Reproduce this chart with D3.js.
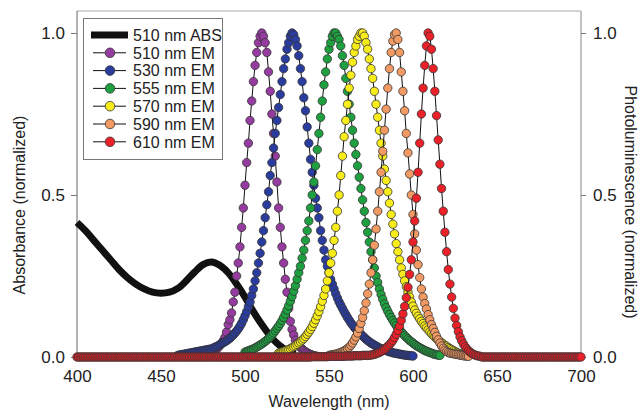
<!DOCTYPE html>
<html><head><meta charset="utf-8">
<script src="https://cdn.jsdelivr.net/npm/d3@7"></script>
<style>
body{margin:0;background:#fff;}
text{font-family:"Liberation Sans Narrow","Arial Narrow","Liberation Sans",Arial,sans-serif;fill:#222;}
</style></head>
<body><svg id="c" width="641" height="410"></svg>
<script>
// ---- data ----
const xTicks = [400, 450, 500, 550, 600, 650, 700];
const yTicks = [0, 0.5, 1.0];
const legendLabels = ["510 nm ABS","510 nm EM","530 nm EM","555 nm EM","570 nm EM","590 nm EM","610 nm EM"];
const emColors = ["#963CA0","#2A3C9E","#1FA040","#F8EC1A","#F29A64","#EA2128"];

const absNm  = [400,405,410,415,420,425,430,435,440,445,450,455,460,465,470,475,480,485,490,495,500,505,510,515,520,525,530];
const absVal = [0.415,0.39,0.36,0.33,0.30,0.27,0.245,0.225,0.21,0.20,0.197,0.20,0.212,0.235,0.262,0.285,0.293,0.283,0.26,0.225,0.185,0.14,0.10,0.065,0.038,0.02,0.01];

// emission series: first wavelength (nm) of each, 1 nm steps
const emStart = [475, 460, 500, 520, 550, 400];
const em510 = [0.004,0.005,0.006,0.008,0.01,0.013,0.016,0.02,0.024,0.029,0.035,0.042,0.05,0.06,0.077,0.1,0.115,0.136,0.17,0.2,
  0.25,0.29,0.34,0.4,0.46,0.53,0.6,0.66,0.73,0.79,0.85,0.9,0.94,0.97,0.99,1.0,0.99,0.97,0.94,0.88,
  0.82,0.75,0.69,0.62,0.54,0.46,0.4,0.34,0.29,0.24,0.2,0.15,0.11,0.085,0.068,0.052,0.042,0.035,0.03,0.025,
  0.02,0.016,0.013,0.01,0.008,0.006,0.004,0.003,0.002];
const em530 = [0.005,0.006,0.007,0.008,0.009,0.01,0.011,0.012,0.013,0.014,0.015,0.016,0.017,0.018,0.019,0.02,0.021,0.022,0.023,0.024,
  0.025,0.027,0.03,0.032,0.035,0.038,0.041,0.044,0.047,0.05,0.054,0.058,0.063,0.068,0.074,0.08,0.087,0.095,0.104,0.115,
  0.127,0.14,0.155,0.17,0.19,0.21,0.235,0.26,0.29,0.32,0.355,0.39,0.43,0.47,0.51,0.56,0.6,0.645,0.69,0.73,
  0.77,0.81,0.85,0.89,0.92,0.95,0.97,0.99,1.0,0.995,0.98,0.96,0.93,0.89,0.85,0.8,0.76,0.71,0.66,0.61,
  0.57,0.53,0.49,0.46,0.43,0.39,0.36,0.33,0.3,0.28,0.26,0.24,0.225,0.21,0.195,0.182,0.17,0.16,0.15,0.14,
  0.131,0.122,0.114,0.106,0.099,0.092,0.086,0.08,0.075,0.07,0.065,0.06,0.055,0.051,0.047,0.043,0.04,0.037,0.034,0.031,
  0.028,0.026,0.024,0.022,0.02,0.018,0.016,0.015,0.013,0.012,0.011,0.01,0.009,0.008,0.007,0.006,0.005,0.005,0.004,0.004,0.003];
const em555 = [0.015,0.017,0.019,0.021,0.023,0.025,0.028,0.031,0.034,0.037,0.04,0.044,0.048,0.052,0.057,0.062,0.068,0.074,0.081,0.088,
  0.095,0.103,0.112,0.122,0.133,0.145,0.158,0.172,0.187,0.203,0.22,0.24,0.26,0.28,0.305,0.33,0.36,0.39,0.42,0.46,
  0.5,0.54,0.59,0.64,0.69,0.74,0.79,0.84,0.88,0.92,0.95,0.97,0.99,1.0,1.0,0.99,0.98,0.96,0.93,0.9,
  0.86,0.82,0.78,0.74,0.7,0.66,0.625,0.59,0.555,0.52,0.485,0.45,0.415,0.385,0.355,0.325,0.3,0.275,0.25,0.23,
  0.21,0.193,0.178,0.164,0.152,0.141,0.131,0.122,0.113,0.105,0.097,0.09,0.084,0.078,0.072,0.066,0.061,0.056,0.051,0.047,
  0.043,0.039,0.035,0.032,0.029,0.026,0.023,0.02,0.018,0.016,0.014,0.012,0.01,0.008,0.007,0.006,0.005];
const em570 = [0.012,0.013,0.015,0.017,0.019,0.021,0.023,0.026,0.029,0.032,0.035,0.039,0.043,0.047,0.052,0.057,0.063,0.07,0.077,0.085,
  0.094,0.104,0.115,0.127,0.14,0.155,0.172,0.19,0.21,0.235,0.26,0.29,0.32,0.36,0.4,0.45,0.5,0.56,0.62,0.68,
  0.73,0.78,0.83,0.87,0.91,0.94,0.96,0.98,0.99,1.0,1.0,0.99,0.97,0.95,0.92,0.89,0.86,0.82,0.78,0.74,
  0.7,0.66,0.62,0.58,0.545,0.51,0.475,0.44,0.41,0.38,0.35,0.325,0.3,0.275,0.255,0.235,0.217,0.2,0.185,0.17,
  0.157,0.145,0.135,0.126,0.118,0.11,0.103,0.096,0.09,0.084,0.078,0.072,0.067,0.062,0.057,0.052,0.048,0.044,0.04,0.036,
  0.033,0.029,0.026,0.023,0.02,0.017,0.014,0.012,0.01,0.008,0.006,0.005];
const em590 = [0.005,0.006,0.007,0.008,0.009,0.01,0.012,0.014,0.016,0.019,0.022,0.026,0.03,0.036,0.043,0.052,0.062,0.074,0.088,0.104,
  0.122,0.143,0.167,0.195,0.225,0.26,0.3,0.345,0.395,0.45,0.51,0.57,0.635,0.7,0.765,0.83,0.89,0.94,0.975,0.995,
  1.0,0.98,0.94,0.88,0.82,0.76,0.69,0.63,0.565,0.5,0.44,0.38,0.33,0.285,0.245,0.21,0.185,0.165,0.148,0.131,
  0.115,0.1,0.088,0.076,0.064,0.053,0.043,0.034,0.027,0.021,0.017,0.014,0.012,0.011,0.01,0.009,0.008,0.007,0.006,0.005,
  0.004,0.003,0.003,0.002];
const em610 = [0,0,0,0,0,0,0,0,0,0,0,0,0,0,0,0,0,0,0,0,0,0,0,0,0,
  0,0,0,0,0,0,0,0,0,0,0,0,0,0,0,0,0,0,0,0,0,0,0,0,0,
  0,0,0,0,0,0,0,0,0,0,0,0,0,0,0,0,0,0,0,0,0,0,0,0,0,
  0,0,0,0,0,0,0,0,0,0,0,0,0,0,0,0,0,0,0,0,0,0,0,0,0,
  0,0,0,0,0,0,0,0,0,0,0,0,0,0,0,0,0,0,0,0,0,0,0,0,0,
  0,0,0,0,0,0,0,0,0,0,0,0,0,0,0,
  0.001,0.001,0.001,0.001,0.001,0.001,0.001,0.001,0.001,0.001,0.002,0.002,0.002,0.002,0.002,0.002,0.002,0.002,0.002,0.002,
  0.003,0.003,0.003,0.003,0.003,0.004,0.004,0.004,0.004,0.004,0.005,0.005,0.005,0.005,0.005,
  0.006,0.007,0.008,0.01,0.012,0.014,0.017,0.02,0.024,0.028,0.033,0.038,0.044,0.051,0.06,0.07,0.082,0.096,0.113,0.133,
  0.156,0.183,0.215,0.255,0.3,0.355,0.42,0.49,0.57,0.66,0.75,0.83,0.9,0.96,1.0,0.99,0.95,0.89,0.82,0.745,
  0.67,0.595,0.52,0.45,0.385,0.325,0.27,0.225,0.185,0.15,0.12,0.097,0.078,0.062,0.05,0.04,0.032,0.025,0.019,0.015,
  0.011,0.008,0.006,0.004,0.003,0.002,
  0,0,0,0,0,0,0,0,0,0,0,0,0,0,0,0,0,0,0,0,0,0,0,0,0,
  0,0,0,0,0,0,0,0,0,0,0,0,0,0,0,0,0,0,0,0,0,0,0,0,0,
  0,0,0,0,0,0,0,0,0,0];
const emValues = [em510, em530, em555, em570, em590, em610];

// ---- drawing ----
const svg = d3.select("#c");
const x = d3.scaleLinear().domain([400, 700]).range([77, 581]);
const y = d3.scaleLinear().domain([0, 1]).range([357, 33]);
const frameTop = 11;
const FONT = "'Liberation Sans Narrow','Arial Narrow','Liberation Sans',Arial,sans-serif";

// frame
svg.append("line").attr("x1", x(400)).attr("x2", x(700)).attr("y1", frameTop).attr("y2", frameTop)
  .attr("stroke", "#aaa").attr("stroke-width", 1);
svg.append("line").attr("x1", x(400)).attr("x2", x(400)).attr("y1", frameTop).attr("y2", y(0))
  .attr("stroke", "#666").attr("stroke-width", 1);
svg.append("line").attr("x1", x(700)).attr("x2", x(700)).attr("y1", frameTop).attr("y2", y(0))
  .attr("stroke", "#888").attr("stroke-width", 1);

// axes
const fmt = d3.format(".1f");
const gl = svg.append("g").attr("transform", `translate(${x(400)},0)`)
  .call(d3.axisLeft(y).tickValues(yTicks).tickFormat(fmt).tickSize(6).tickPadding(6));
const gr = svg.append("g").attr("transform", `translate(${x(700)},0)`)
  .call(d3.axisRight(y).tickValues(yTicks).tickFormat(fmt).tickSize(5).tickPadding(7));
const gb = svg.append("g").attr("transform", `translate(0,${y(0) + 8})`)
  .call(d3.axisBottom(x).tickValues(xTicks).tickFormat(d3.format("d")).tickSize(0).tickPadding(5));
[gl, gr, gb].forEach(g => {
  g.select(".domain").remove();
  g.selectAll(".tick line").attr("stroke", "#777");
  g.selectAll("text").attr("font-size", 17).style("fill", "#222").attr("font-family", FONT);
});

// axis titles
svg.append("text").attr("x", 329).attr("y", 407).attr("text-anchor", "middle")
  .attr("font-size", 16).text("Wavelength (nm)");
svg.append("text").attr("transform", "translate(25,205) rotate(-90)").attr("text-anchor", "middle")
  .attr("font-size", 16).text("Absorbance (normalized)");
svg.append("text").attr("transform", "translate(625,202) rotate(90)").attr("text-anchor", "middle")
  .attr("font-size", 16).text("Photoluminescence (normalized)");

// absorbance
const absData = absNm.map((d, i) => [d, absVal[i]]);
svg.append("path").datum(absData)
  .attr("d", d3.line().x(d => x(d[0])).y(d => y(d[1])).curve(d3.curveCatmullRom))
  .attr("fill", "none").attr("stroke", "#111").attr("stroke-width", 7);

// emission series
const line = d3.line().x(d => x(d[0])).y(d => y(d[1]));
emValues.forEach((vals, s) => {
  const data = vals.map((v, i) => [emStart[s] + i, v]);
  const g = svg.append("g");
  g.append("path").datum(data).attr("d", line)
    .attr("fill", "none").attr("stroke", "#111").attr("stroke-width", 1);
  g.selectAll("circle").data(data).join("circle")
    .attr("cx", d => x(d[0])).attr("cy", d => y(d[1])).attr("r", 4.2)
    .attr("fill", emColors[s]).attr("stroke", "#333").attr("stroke-width", 0.8);
});

// legend
const lg = svg.append("g");
lg.append("rect").attr("x", 83.5).attr("y", 18.5).attr("width", 139).attr("height", 141)
  .attr("fill", "#fff").attr("stroke", "#777").attr("stroke-width", 1);
legendLabels.forEach((lab, i) => {
  const yy = 35 + i * 17.8;
  if (i === 0) {
    lg.append("line").attr("x1", 91).attr("x2", 128).attr("y1", yy).attr("y2", yy)
      .attr("stroke", "#111").attr("stroke-width", 7);
  } else {
    lg.append("line").attr("x1", 93).attr("x2", 126).attr("y1", yy).attr("y2", yy)
      .attr("stroke", "#111").attr("stroke-width", 1);
    lg.append("circle").attr("cx", 110).attr("cy", yy).attr("r", 4.8)
      .attr("fill", emColors[i - 1]).attr("stroke", "#333").attr("stroke-width", 0.8);
  }
  lg.append("text").attr("x", 133).attr("y", yy).attr("dy", "0.36em")
    .attr("font-size", 16).text(lab);
});
</script></body></html>
